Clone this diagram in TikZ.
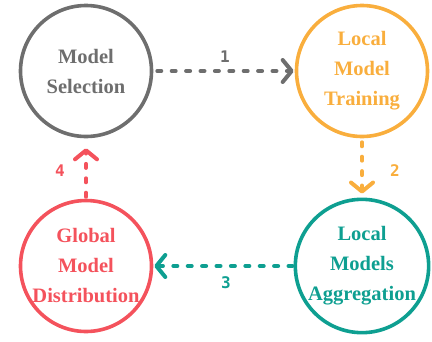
\documentclass[tikz,border=0pt]{standalone}
\usepackage{fontspec}
\setmainfont{Liberation Serif}
\newfontfamily\numfont{DejaVu Sans Mono}
\usetikzlibrary{arrows.meta}
\definecolor{cgray}{HTML}{6E6E6E}
\definecolor{corange}{HTML}{F9AE3D}
\definecolor{cteal}{HTML}{0E9F91}
\definecolor{cred}{HTML}{F4525C}
\tikzset{
  stage/.style={circle, draw=#1, text=#1, line width=3.6pt, minimum size=131pt, inner sep=0pt,
    align=center, font=\fontsize{20.5}{30}\selectfont\bfseries},
  conn/.style={draw=#1, line width=4pt, line cap=round, dash pattern=on 4pt off 10.4pt,
    -{Straight Barb[length=9pt,width=22pt,line width=4pt,round]}},
  numlabel/.style={text=#1, font=\fontsize{16}{16}\selectfont\numfont\bfseries, inner sep=0pt}
}
\begin{document}
\begin{tikzpicture}[x=1pt,y=-1pt]
\useasboundingbox (0,0) rectangle (432,341);
\node[stage=cgray] (ms) at (86,71) {Model\\Selection};
\node[stage=corange] (lt) at (362,71) {Local\\Model\\Training};
\node[stage=cteal] (la) at (362,266) {Local\\Models\\Aggregation};
\node[stage=cred] (gd) at (86,266) {Global\\Model\\Distribution};
\draw[conn=cgray, shorten <=4pt, shorten >=1pt] (ms) -- (lt);
\draw[conn=corange, shorten <=4pt, shorten >=4pt] (lt) -- (la);
\draw[conn=cteal, shorten <=1pt, shorten >=1pt] (la) -- (gd);
\draw[conn=cred, shorten <=2pt, shorten >=10pt] (gd) -- (ms);
\node[numlabel=cgray] (n1) at (225,57) {1};
\node[numlabel=corange] (n2) at (395,171) {2};
\node[numlabel=cteal] (n3) at (226,283) {3};
\node[numlabel=cred] (n4) at (60,171) {4};
\end{tikzpicture}
\end{document}
